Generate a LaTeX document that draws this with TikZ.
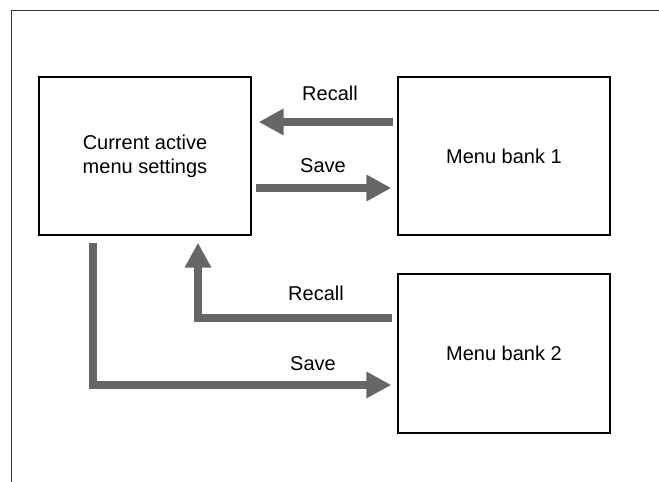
\documentclass[tikz,border=0pt]{standalone}
\usepackage{fontspec}
\setmainfont{Liberation Sans}
\usetikzlibrary{arrows.meta}
\definecolor{arrowgray}{RGB}{102,102,102}
\tikzset{
  bank/.style={draw, line width=1.3pt, minimum width=212pt, minimum height=158pt, align=center, font=\fontsize{20}{24}\selectfont},
  bigarrow/.style={draw=arrowgray, line width=8pt, -{Triangle[length=25pt,width=25pt]}},
  lbl/.style={font=\fontsize{20}{24}\selectfont}
}
\begin{document}
\begin{tikzpicture}[x=1pt,y=1pt]
\useasboundingbox (0,0) rectangle (659,482);
\draw[line width=1pt, black!80] (659,471) -- (11,471) -- (11,0);

\node[bank] (cur) at (145,326) {Current active\\menu settings};
\node[bank] (b1) at (504,326) {Menu bank 1};
\node[bank, minimum height=159pt] (b2) at (504,128.5) {Menu bank 2};

% bank 1
\draw[bigarrow, shorten <=4pt, shorten >=7pt] ([yshift=34pt]b1.west) -- ([yshift=34pt]cur.east);
\draw[bigarrow, shorten <=4pt, shorten >=6pt] ([yshift=-32pt]cur.east) -- ([yshift=-32pt]b1.west);
\node[lbl] (r1) at (330,389) {Recall};
\node[lbl] (s1) at (323,316) {Save};

% bank 2
\draw[bigarrow, shorten <=5pt, shorten >=7pt] ([yshift=35.5pt]b2.west) -| ([xshift=53pt]cur.south);
\draw[bigarrow, shorten <=7pt, shorten >=6pt] ([xshift=-52pt]cur.south) |- ([yshift=-31.5pt]b2.west);
\node[lbl] (r2) at (316,189) {Recall};
\node[lbl] (s2) at (313,118) {Save};
\end{tikzpicture}
\end{document}
